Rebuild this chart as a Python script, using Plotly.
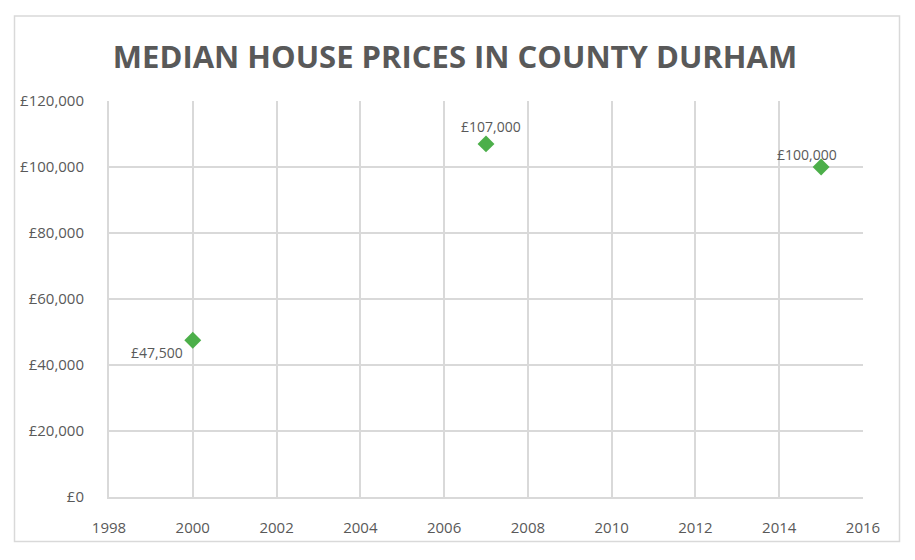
import plotly.graph_objects as go

years = [2000, 2007, 2015]
prices = [47500, 107000, 100000]
labels = ["£47,500", "£107,000", "£100,000"]
label_shift_x = [-36, 5, -14]
label_shift_y = [-12, 17, 13]
y_ticks = [0, 20000, 40000, 60000, 80000, 100000, 120000]
y_tick_text = ["£0", "£20,000", "£40,000", "£60,000", "£80,000", "£100,000", "£120,000"]
x_ticks = list(range(1998, 2017, 2))

FONT = "Open Sans"
GREY = "#595959"
GRID = "#d9d9d9"

# page body has an 8px margin, so figure coordinates are offset by 8px
OFF = 8
FW, FH = 915 - OFF, 560 - OFF
L, R, T, B = 109, 863, 101, 497   # plot area in screen px
W, H = R - L, B - T

fig = go.Figure()
fig.add_trace(go.Scatter(
    x=years, y=prices, mode="markers",
    marker=dict(symbol="diamond", size=13, color="#4CAF4A"),
    hoverinfo="skip",
))

for x, y, t, dx, dy in zip(years, prices, labels, label_shift_x, label_shift_y):
    fig.add_annotation(x=x, y=y, text=t, showarrow=False, xshift=dx, yshift=dy,
                       font=dict(family=FONT, size=14, color=GREY))

# outer chart border
fig.add_shape(type="rect", xref="paper", yref="paper",
              x0=(14.5 - L) / W, x1=(899.5 - L) / W,
              y0=(B - 541.5) / H, y1=(B - 16) / H,
              line=dict(color=GRID, width=1.5), layer="below")

fig.update_layout(
    width=FW, height=FH,
    margin=dict(l=L - OFF, r=915 - R, t=T - OFF, b=560 - B),
    paper_bgcolor="white", plot_bgcolor="white",
    showlegend=False,
    title=dict(text="<b>MEDIAN HOUSE PRICES IN COUNTY DURHAM</b>",
               x=(455 - OFF) / FW, xanchor="center", y=1 - (57 - OFF) / FH, yanchor="middle",
               font=dict(family=FONT, size=31, color=GREY)),
    xaxis=dict(range=[1998, 2016], tickvals=x_ticks, ticktext=[str(v) for v in x_ticks],
               showgrid=True, gridcolor=GRID, gridwidth=2,
               showline=True, linecolor=GRID, linewidth=2, mirror=False,
               zeroline=False, ticks="", ticklabelstandoff=16,
               tickfont=dict(family=FONT, size=15, color=GREY)),
    yaxis=dict(range=[0, 120000], tickvals=y_ticks, ticktext=y_tick_text,
               showgrid=True, gridcolor=GRID, gridwidth=2,
               showline=True, linecolor=GRID, linewidth=2,
               zeroline=False, ticks="", ticklabelstandoff=20,
               tickfont=dict(family=FONT, size=15, color=GREY)),
)

fig.write_html("out.html")
